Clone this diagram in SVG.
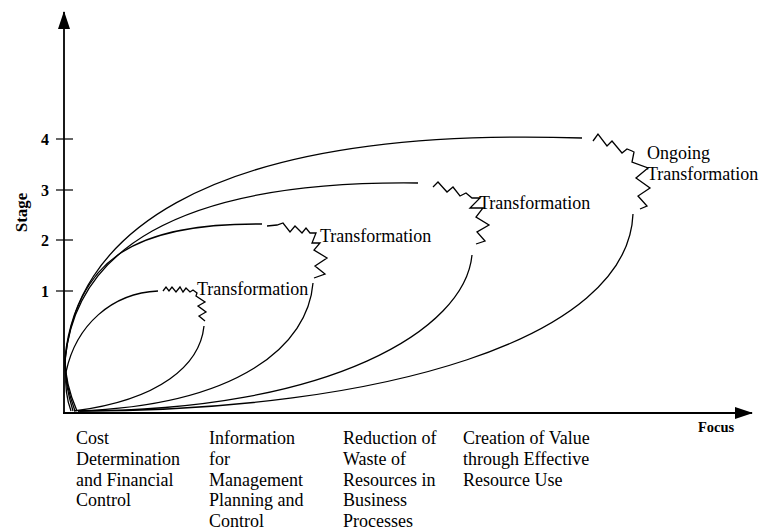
<svg xmlns="http://www.w3.org/2000/svg" width="761" height="531" viewBox="0 0 761 531">
<style>
.ax{stroke:#000;stroke-width:1.8;fill:none}
.tk{stroke:#000;stroke-width:1.2}
.cv{stroke:#000;stroke-width:1.3;fill:none}
.zz{stroke:#000;stroke-width:1.3;fill:none;stroke-linejoin:miter}
.t{font-family:"Liberation Serif","Times New Roman",serif;font-size:18px;fill:#000}
.n{font-family:"Liberation Serif","Times New Roman",serif;font-size:16px;font-weight:bold;fill:#000}
.b{font-family:"Liberation Serif","Times New Roman",serif;font-weight:bold;fill:#000}
</style>
<defs>
<marker id="ah" markerWidth="18" markerHeight="12" refX="17" refY="6" orient="auto" markerUnits="userSpaceOnUse">
<path d="M0,0 L18,6 L0,12 Z" fill="#000"/>
</marker>
</defs>
<g id="axes">
<line class="ax" x1="64" y1="413" x2="64" y2="12" marker-end="url(#ah)"/>
<line class="ax" x1="63" y1="413" x2="752" y2="413" marker-end="url(#ah)"/>
<line class="tk" x1="56" y1="139" x2="73" y2="139"/>
<line class="tk" x1="56" y1="190" x2="73" y2="190"/>
<line class="tk" x1="56" y1="240" x2="73" y2="240"/>
<line class="tk" x1="56" y1="291" x2="73" y2="291"/>
<text class="n" x="49" y="145" text-anchor="end">4</text>
<text class="n" x="49" y="196" text-anchor="end">3</text>
<text class="n" x="49" y="246" text-anchor="end">2</text>
<text class="n" x="49" y="297" text-anchor="end">1</text>
<text class="b" font-size="17" transform="translate(27,212.5) rotate(-90)" text-anchor="middle">Stage</text>
<text class="b" font-size="14.5" x="698" y="432">Focus</text>
</g>
<g id="connectors">
<path class="cv" d="M71,411 C67,400 65,385 66,372 C76,325 112,293 158,291"/>
<path class="cv" d="M73,411 C68,395 65,380 65,362 C75,255 140,223 262,224"/>
<path class="cv" d="M75,411 C69,395 65,378 65,360 C75,255 170,180 418,183"/>
<path class="cv" d="M77,411 C70,395 65,375 65,358 C75,250 180,125 582,138"/>
<path class="cv" d="M204,326 C200,365 160,400 74,411"/>
<path class="cv" d="M313,283 C308,345 240,405 78,411"/>
<path class="cv" d="M472,255 C465,330 330,411 78,411"/>
<path class="cv" d="M633,214 C628,340 380,411 80,411"/>
</g>
<g id="stage1">
<path class="zz" d="M163,291 L166,287 L169,291 L172,287 L176,292 L180,287 L183,292 L186,288 L190,292 L193,290 L197,293 L196,296 L205,302 L198,306 L206,312 L199,316 L205,321"/>
<text class="t" x="197" y="295">Transformation</text>
</g>
<g id="stage2">
<path class="zz" d="M267,226 L277,225 L283,223 L290,232 L295,226 L302,233 L306,228 L310,233 L316,233 L312,243 L320,243 L314,250 L327,258 L315,266 L325,274 L314,278"/>
<text class="t" x="320" y="242">Transformation</text>
</g>
<g id="stage3">
<path class="zz" d="M433,187 L438,182 L447,192 L453,187 L460,196 L466,193 L472,198 L480,198 L470,208 L483,208 L476,217 L489,225 L477,232 L485,241 L476,244"/>
<text class="t" x="479" y="209">Transformation</text>
</g>
<g id="stage4">
<path class="zz" d="M593,141 L598,134 L607,146 L612,141 L622,153 L627,149 L632,151 L634,152 L632,162 L648,168 L636,178 L650,188 L638,196 L647,206 L640,209"/>
<text class="t" x="647" y="159">Ongoing</text>
<text class="t" x="647" y="180">Transformation</text>
</g>
<g id="focus-labels">
<text class="t" x="76" y="444">Cost</text>
<text class="t" x="76" y="464.75">Determination</text>
<text class="t" x="76" y="485.5">and Financial</text>
<text class="t" x="76" y="506.25">Control</text>
<text class="t" x="209" y="444">Information</text>
<text class="t" x="209" y="464.75">for</text>
<text class="t" x="209" y="485.5">Management</text>
<text class="t" x="209" y="506.25">Planning and</text>
<text class="t" x="209" y="527">Control</text>
<text class="t" x="343" y="444">Reduction of</text>
<text class="t" x="343" y="464.75">Waste of</text>
<text class="t" x="343" y="485.5">Resources in</text>
<text class="t" x="343" y="506.25">Business</text>
<text class="t" x="343" y="527">Processes</text>
<text class="t" x="463" y="444">Creation of Value</text>
<text class="t" x="463" y="464.75">through Effective</text>
<text class="t" x="463" y="485.5">Resource Use</text>
</g>
</svg>
